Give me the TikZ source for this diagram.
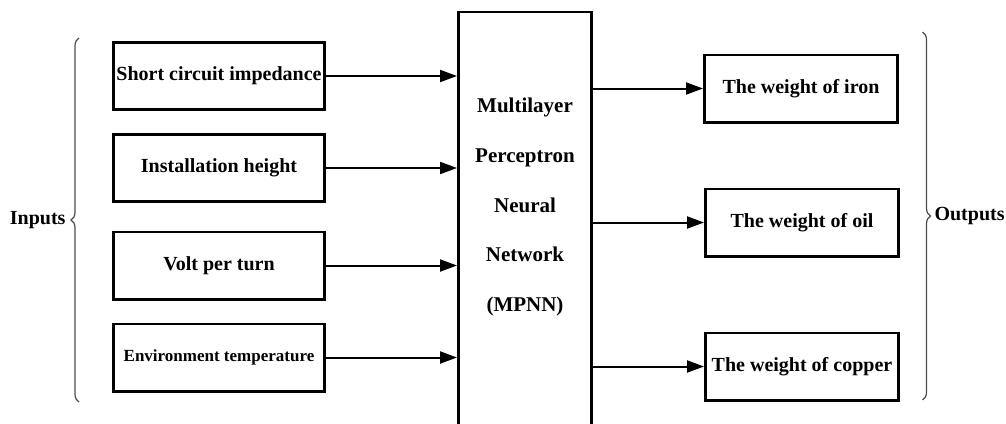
\documentclass[tikz,border=0pt]{standalone}
\usepackage{fontspec}
\setmainfont{Liberation Serif}
\usetikzlibrary{arrows.meta, decorations.pathreplacing}

\tikzset{
	box/.style={draw, line width=2.8pt, minimum height=67.2pt, inner sep=2pt},
	inbox/.style={box, minimum width=211.2pt},
	outbox/.style={box, minimum width=193.2pt, font=\bfseries\fontsize{20}{24}\selectfont},
	feed/.style={-{Triangle[length=17pt,width=12pt]}, line width=2pt},
	bracket/.style={decorate, decoration={brace, amplitude=8pt}, line width=1.2pt, black!70},
	sidelabel/.style={font=\bfseries\fontsize{20}{24}\selectfont}
}

\begin{document}
\begin{tikzpicture}[x=1pt, y=-1pt]
		\useasboundingbox (0,0) rectangle (1006,423);
		\clip (0,0) rectangle (1006,423);
		% network block, its lower edge runs off the page
		\node[draw, line width=2.8pt, minimum width=133.2pt, minimum height=440pt] (mpnn) at (525,232) {};
		\node[align=center, font=\bfseries\fontsize{21}{49.7}\selectfont] (mpnnlabel) at (525,207)
			{Multilayer\\Perceptron\\Neural\\Network\\(MPNN)};
		% input boxes
		\foreach \name/\ypos/\fsize/\txt in {in1/76/20/Short circuit impedance,
			in2/168/20/Installation height, in3/265.5/20/Volt per turn,
			in4/357.5/17/Environment temperature}
		{
			\node[inbox, font=\bfseries\fontsize{\fsize}{24}\selectfont] (\name) at (219,\ypos) {\txt};
		}
		% output boxes
		\node[outbox] (out1) at (801,88.5) {The weight of iron};
		\node[outbox] (out2) at (802,222.5) {The weight of oil};
		\node[outbox] (out3) at (802,366.5) {The weight of copper};
		% arrows into the network
		\foreach \name in {in1,in2,in3,in4}
		{
			\draw[feed] (\name.east) -- (\name -| mpnn.west);
		}
		% arrows out of the network
		\foreach \name in {out1,out2,out3}
		{
			\draw[feed] (\name -| mpnn.east) -- (\name.west);
		}
		% braces and their labels
		\draw[bracket] (79,402) -- (79,38);
		\draw[bracket] (922.5,32) -- (922.5,400);
		\node[sidelabel, anchor=east] (inputs) at (69,220) {Inputs};
		\node[sidelabel, anchor=west] (outputs) at (931,216) {Outputs};
	\end{tikzpicture}
\end{document}
